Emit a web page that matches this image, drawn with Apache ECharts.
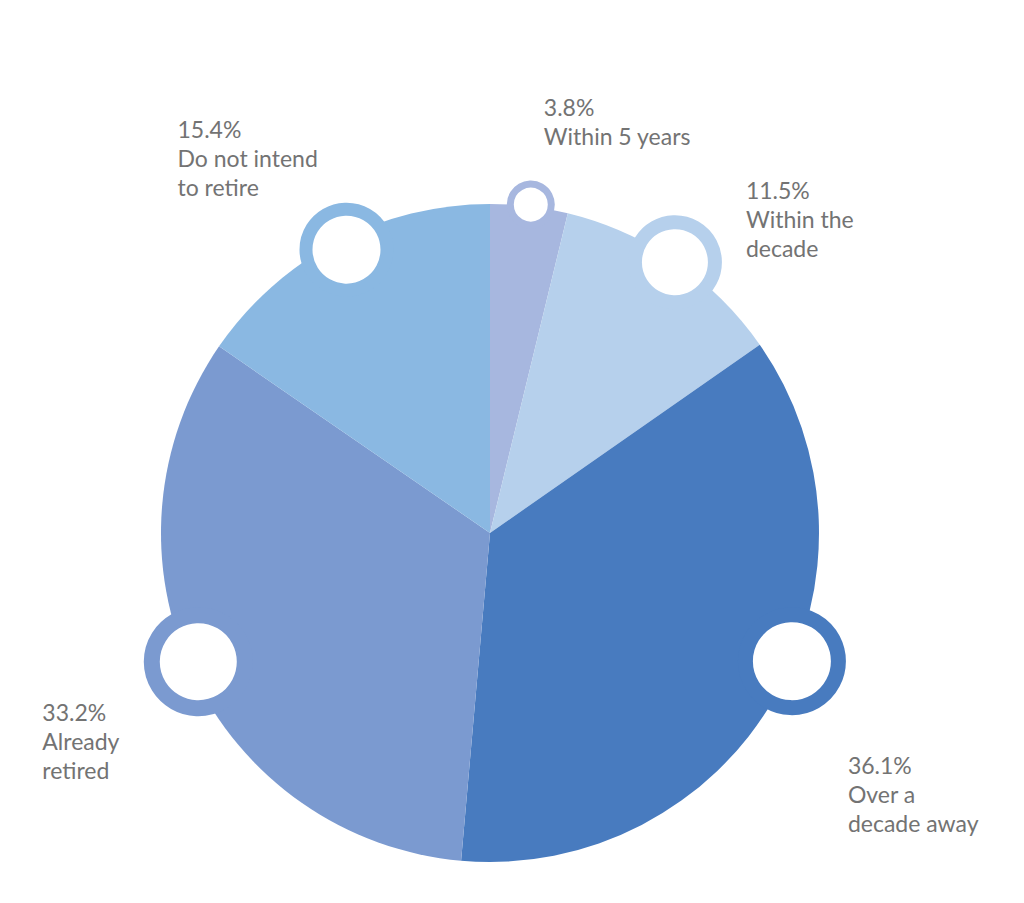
<!DOCTYPE html>
<html>
<head>
<meta charset="utf-8">
<script src="https://cdn.jsdelivr.net/npm/echarts@6/dist/echarts.min.js"></script>
<style>
html,body{margin:0;padding:0;background:#fff;}
#chart{width:1024px;height:903px;}
</style>
</head>
<body>
<div id="chart"></div>
<script>
// ---- data ----
var categories = ['Within 5 years', 'Within the\ndecade', 'Over a\ndecade away', 'Already\nretired', 'Do not intend\nto retire'];
var values = [3.8, 11.5, 36.1, 33.2, 15.4];

// ---- styles ----
var colors = ['#A7B7DF', '#B6D0EC', '#487BBF', '#7B9AD0', '#8AB8E2'];
var ringSize = [41, 80, 93, 93, 81];       // symbol diameter (centre of ring stroke)
var ringWidth = [7, 14, 15, 16, 13];
var labelOffset = [[13, -112], [71, -87], [56, 89], [-156, 36], [-169, -135]];
var markerNudge = [[2, -5], [1, -2], [20, -35], [3, -10], [8, 5]];
var CENTER = [490, 533], RADIUS = 329;

var chart = echarts.init(document.getElementById('chart'), null, {renderer: 'svg'});

var total = values.reduce(function (a, b) { return a + b; }, 0);
var cum = 0;
var markerData = values.map(function (v, i) {
  var mid = cum + v / 2;
  cum += v;
  return {
    value: [0.99, mid / total * 100],
    name: categories[i],
    raw: v,
    symbolSize: ringSize[i],
    symbolOffset: markerNudge[i],
    itemStyle: {color: '#ffffff', borderColor: colors[i], borderWidth: ringWidth[i], opacity: 1},
    label: {offset: labelOffset[i]}
  };
});

var option = {
  backgroundColor: '#ffffff',
  animation: false,
  polar: {center: CENTER, radius: RADIUS},
  angleAxis: {type: 'value', min: 0, max: 100, startAngle: 90, clockwise: true, show: false},
  radiusAxis: {type: 'value', min: 0, max: 1, show: false},
  series: [
    {
      type: 'pie',
      center: CENTER,
      radius: RADIUS,
      startAngle: 90,
      clockwise: true,
      silent: true,
      label: {show: false},
      labelLine: {show: false},
      itemStyle: {borderWidth: 0},
      data: values.map(function (v, i) {
        return {value: v, name: categories[i], itemStyle: {color: colors[i]}};
      }),
      z: 1
    },
    {
      type: 'scatter',
      coordinateSystem: 'polar',
      symbol: 'circle',
      silent: true,
      z: 5,
      itemStyle: {opacity: 1},
      label: {
        show: true,
        position: 'inside',
        align: 'left',
        verticalAlign: 'top',
        fontFamily: 'Lato',
        fontSize: 23,
        lineHeight: 29,
        color: '#737373',
        formatter: function (p) { return p.data.raw.toFixed(1) + '%\n' + p.data.name; }
      },
      data: markerData
    }
  ]
};
chart.setOption(option);
</script>
</body>
</html>
